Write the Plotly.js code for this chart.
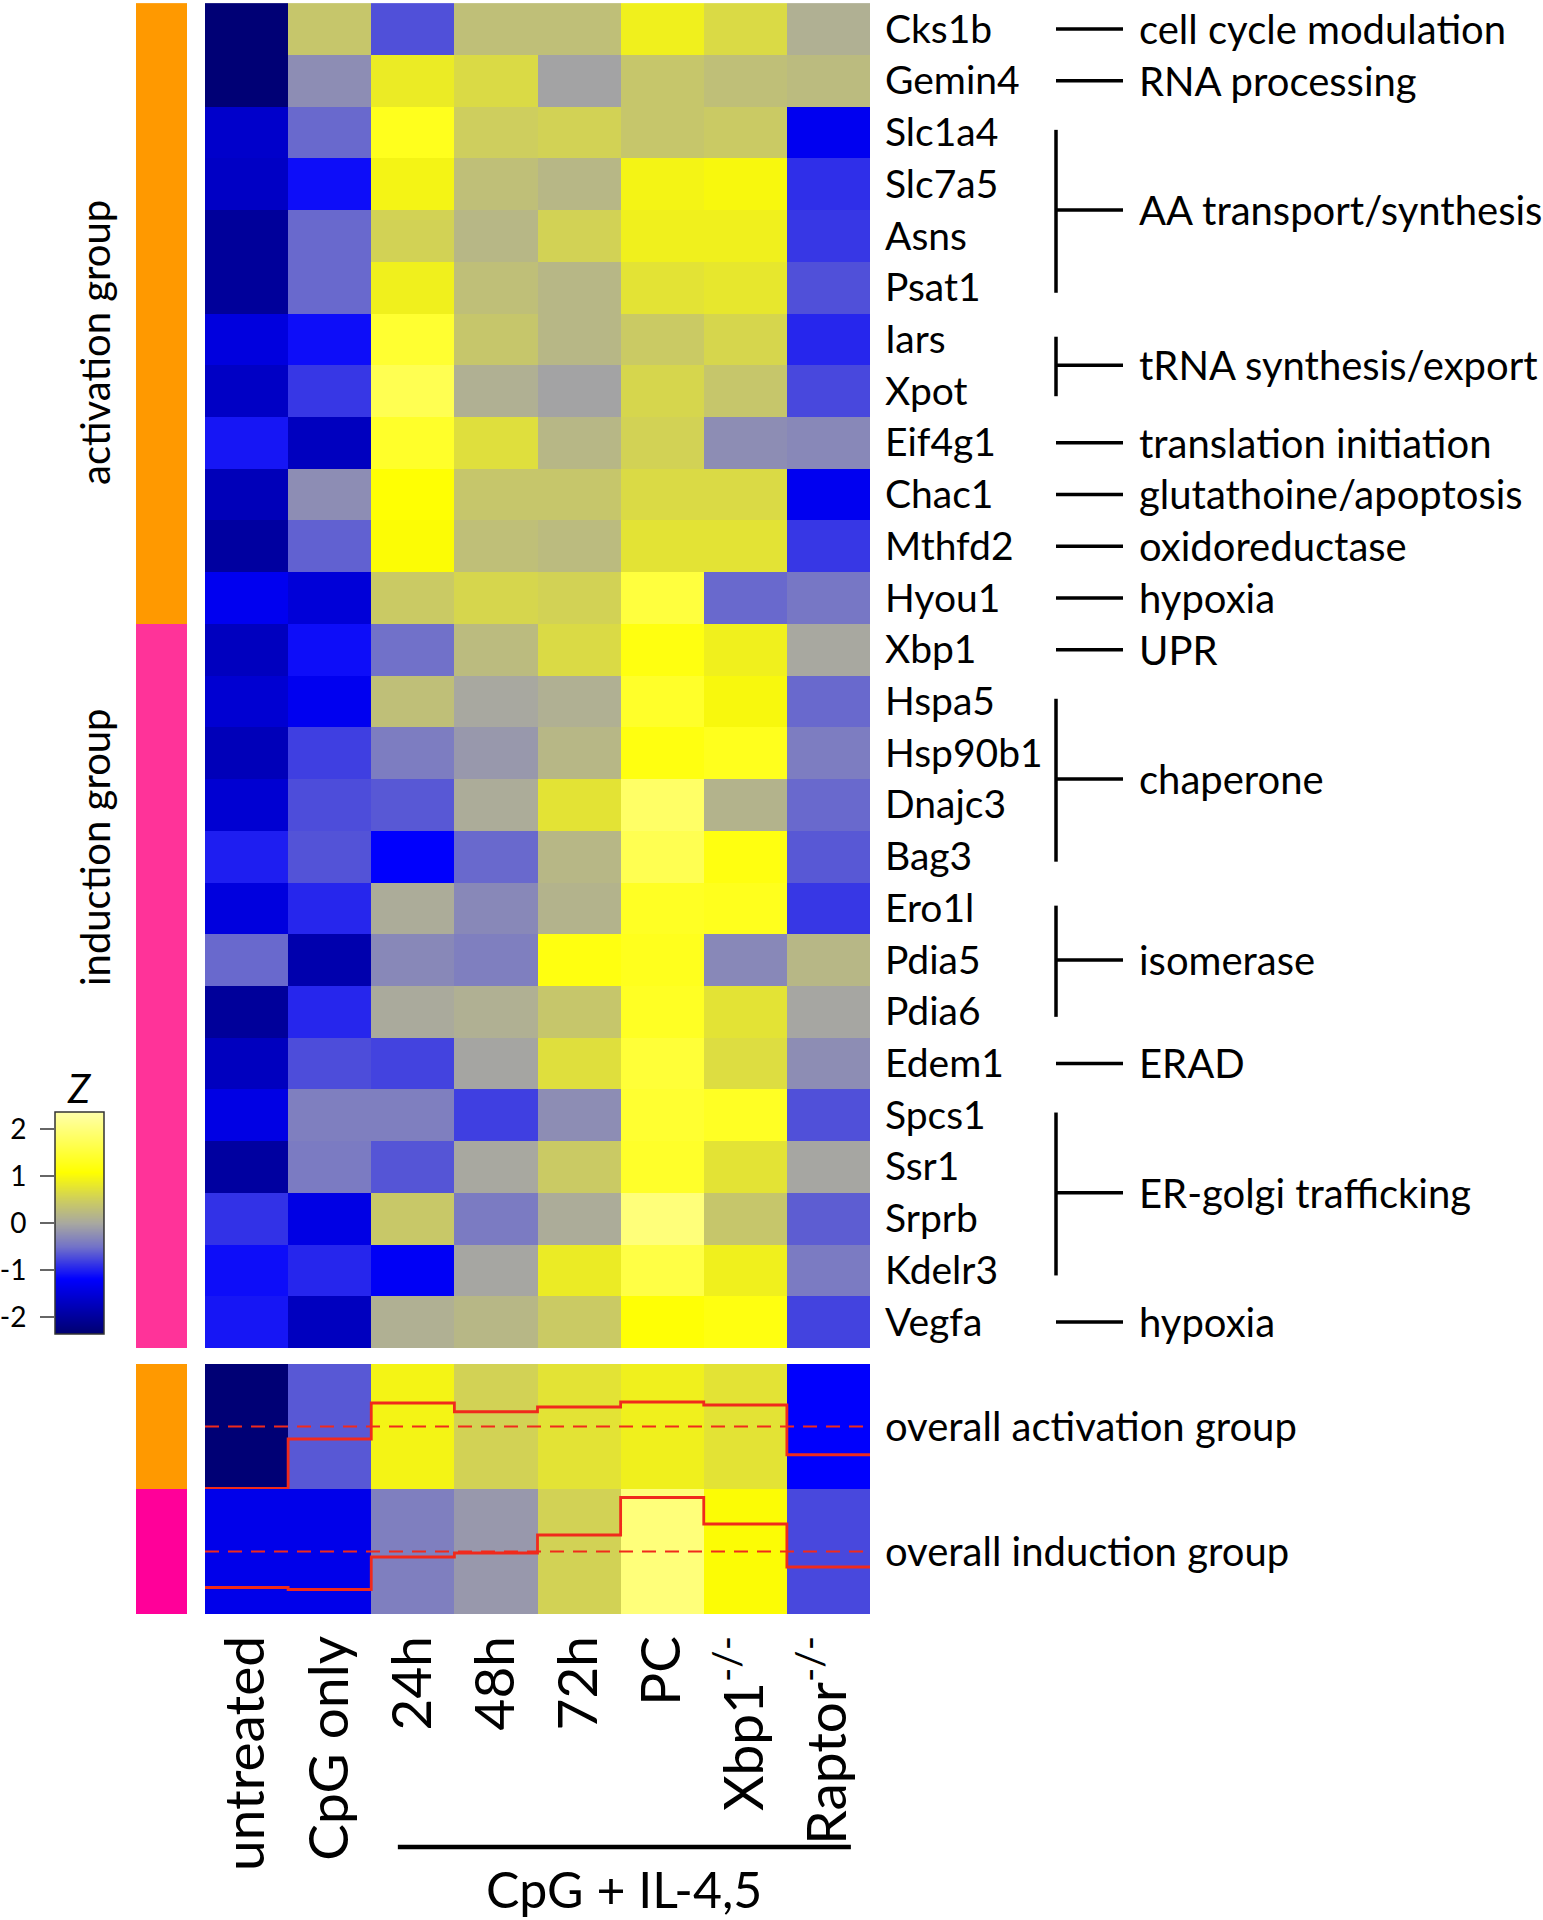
<!DOCTYPE html>
<html><head><meta charset="utf-8">
<script src="https://cdn.plot.ly/plotly-3.0.1.min.js"></script>
<style>html,body{margin:0;padding:0;background:#fff;} #chart{width:1543px;height:1920px;}</style>
</head><body><div id="chart"></div>
<script>
// ---------- DATA ----------
const genes = ['Cks1b','Gemin4','Slc1a4','Slc7a5','Asns','Psat1','Iars','Xpot','Eif4g1','Chac1','Mthfd2','Hyou1',
  'Xbp1','Hspa5','Hsp90b1','Dnajc3','Bag3','Ero1l','Pdia5','Pdia6','Edem1','Spcs1','Ssr1','Srprb','Kdelr3','Vegfa'];
const geneGroup = ['activation','activation','activation','activation','activation','activation','activation','activation','activation','activation','activation','activation',
  'induction','induction','induction','induction','induction','induction','induction','induction','induction','induction','induction','induction','induction','induction'];
const conditions = ['untreated','CpG only','24h','48h','72h','PC','Xbp1<sup>-/-</sup>','Raptor<sup>-/-</sup>'];

// Z-scores per condition (one value per gene, same order as genes)
const untreated = [-2.3,-2.3,-1.6,-1.65,-2.0,-2.0,-1.45,-1.65,-1.05,-1.75,-1.95,-1.3,-1.7,-1.55,-1.75,-1.55,-1.0,-1.45,-0.55,-2.0,-1.7,-1.4,-1.95,-0.88,-1.1,-1.05];
const cpgOnly   = [0.4,-0.25,-0.55,-1.1,-0.55,-0.55,-1.1,-0.85,-1.7,-0.25,-0.6,-1.5,-1.1,-1.3,-0.8,-0.72,-0.68,-0.95,-1.85,-0.95,-0.72,-0.38,-0.42,-1.4,-0.95,-1.7];
const h24       = [-0.7,0.85,1.3,0.95,0.55,0.9,1.45,1.7,1.4,1.1,1.05,0.45,-0.5,0.3,-0.4,-0.65,-1.2,0.05,-0.3,0.03,-0.78,-0.38,-0.67,0.42,-1.25,0.1];
const h48       = [0.3,0.65,0.5,0.3,0.2,0.3,0.4,0.1,0.7,0.4,0.3,0.6,0.25,0.0,-0.15,0.05,-0.55,-0.3,-0.38,0.1,-0.03,-0.8,0.0,-0.42,-0.02,0.2];
const h72       = [0.3,-0.05,0.55,0.2,0.55,0.2,0.2,-0.05,0.2,0.4,0.25,0.55,0.65,0.1,0.2,0.75,0.2,0.15,1.2,0.4,0.7,-0.25,0.45,0.05,0.85,0.45];
const pc        = [0.9,0.4,0.4,0.95,0.9,0.75,0.45,0.6,0.55,0.65,0.75,1.55,1.2,1.4,1.2,1.85,1.7,1.35,1.3,1.35,1.5,1.45,1.4,2.0,1.6,1.12];
const xbp1KO    = [0.65,0.3,0.45,1.0,0.9,0.8,0.6,0.4,-0.25,0.65,0.75,-0.55,0.9,1.0,1.3,0.15,1.2,1.3,-0.3,0.75,0.68,1.35,0.75,0.4,0.9,1.2];
const raptorKO  = [0.1,0.25,-1.3,-0.9,-0.85,-0.7,-0.95,-0.75,-0.3,-1.3,-0.85,-0.45,0.0,-0.55,-0.4,-0.55,-0.65,-0.85,0.2,-0.02,-0.25,-0.7,-0.02,-0.62,-0.42,-0.78];

// overall group rows
const overallLabels = ['overall activation group','overall induction group'];
const overallActivation = [-2.3,-0.65,0.95,0.55,0.75,0.9,0.75,-1.2];
const overallInduction  = [-1.35,-1.35,-0.38,-0.15,0.55,2.0,1.05,-0.75];
// red step-line values (group mean)
const activationLine = [-2.48,-0.5,0.94,0.59,0.78,0.98,0.86,-1.13];
const inductionLine  = [-1.44,-1.52,-0.22,-0.06,0.66,2.16,1.1,-0.62];

// functional annotation (first / last gene index)
const funcLabels = ['cell cycle modulation','RNA processing','AA transport/synthesis','tRNA synthesis/export','translation initiation',
  'glutathoine/apoptosis','oxidoreductase','hypoxia','UPR','chaperone','isomerase','ERAD','ER-golgi trafficking','hypoxia'];
const funcFirst = [0,1,2,6,8,9,10,11,12,13,17,20,21,25];
const funcLast  = [0,1,5,7,8,9,10,11,12,16,19,20,24,25];

const zScale = [-2.36, 2.36];
const colorTicks = [-2,-1,0,1,2];
const colorTickText = ['-2','-1','0','1','2'];

// ---------- STYLE ----------
const W = 1543, H = 1920;
const px = v => v / W;
const py = v => (H - v) / H;
const FONT = 'Lato, "Open Sans", sans-serif';
const colorscale = [
  [0.0, 'rgb(0,0,110)'],
  [0.25, 'rgb(0,0,255)'],
  [0.396, 'rgb(115,115,200)'],
  [0.5, 'rgb(168,168,160)'],
  [0.604, 'rgb(205,205,95)'],
  [0.729, 'rgb(255,255,0)'],
  [1.0, 'rgb(255,255,170)']
];
const conds = [untreated, cpgOnly, h24, h48, h72, pc, xbp1KO, raptorKO];
const zMain = genes.map((g, i) => conds.map(a => a[i]));

const heatX = [px(205), px(870)];
const sideX = [px(136), px(187)];
const mainY = [py(1348), py(3)];
const botY = [py(1614), py(1364)];
const actY = [py(1489), py(1364)];
const indY = [py(1614), py(1489)];

const idx = conditions.map((c, i) => i);
function stepX() { return [-0.5].concat(idx, [idx.length - 0.5]); }
function stepY(v) { return [v[0]].concat(v, [v[v.length - 1]]); }
const RED = 'rgb(240,42,28)';

const traces = [
  {type:'heatmap', x:conditions, y:genes, z:zMain, xaxis:'x', yaxis:'y',
   colorscale:colorscale, zmin:zScale[0], zmax:zScale[1], showscale:false, hoverinfo:'skip'},
  {type:'heatmap', x:conditions, y:overallLabels, z:[overallActivation, overallInduction], xaxis:'x2', yaxis:'y2',
   colorscale:colorscale, zmin:zScale[0], zmax:zScale[1], showscale:false, hoverinfo:'skip'},
  {type:'heatmap', x:['group'], y:genes, z:geneGroup.map(g => [g === 'activation' ? 0 : 1]), xaxis:'x3', yaxis:'y',
   colorscale:[[0,'#FF9900'],[0.5,'#FF9900'],[0.5,'#FF3399'],[1,'#FF3399']], zmin:0, zmax:1, showscale:false, hoverinfo:'skip'},
  {type:'heatmap', x:['group'], y:overallLabels, z:[[0],[1]], xaxis:'x4', yaxis:'y2',
   colorscale:[[0,'#FF9900'],[0.5,'#FF9900'],[0.5,'#FF0099'],[1,'#FF0099']], zmin:0, zmax:1, showscale:false, hoverinfo:'skip'},
  {type:'heatmap', x:[0,1], y:zScale, z:[[zScale[0],zScale[0]],[zScale[1],zScale[1]]], xaxis:'x5', yaxis:'y3',
   zsmooth:'best', colorscale:colorscale, zmin:zScale[0], zmax:zScale[1], showscale:false, hoverinfo:'skip'},
  {type:'scatter', mode:'lines', x:stepX(), y:stepY(activationLine), xaxis:'x6', yaxis:'y4',
   line:{shape:'hvh', color:RED, width:2.8}, hoverinfo:'skip'},
  {type:'scatter', mode:'lines', x:stepX(), y:stepY(inductionLine), xaxis:'x7', yaxis:'y5',
   line:{shape:'hvh', color:RED, width:2.8}, hoverinfo:'skip'}
];

const shapes = [];
const annotations = [];
// functional connectors and labels
funcLabels.forEach((lab, k) => {
  const a = funcFirst[k], b = funcLast[k], mid = (a + b) / 2;
  shapes.push({type:'line', xref:'paper', yref:'y', x0:px(1056), x1:px(1123), y0:mid, y1:mid, line:{color:'#000', width:3.5}});
  if (b > a) {
    shapes.push({type:'line', xref:'paper', yref:'y', x0:px(1056), x1:px(1056), y0:a - 0.05, y1:b + 0.1, line:{color:'#000', width:3.5}});
  }
  annotations.push({text:lab, xref:'paper', yref:'y', x:px(1137), y:mid, xanchor:'left', yanchor:'middle',
    showarrow:false, font:{family:FONT, size:40, color:'#000'}});
});
// dashed baselines
['y4','y5'].forEach((ya, k) => {
  shapes.push({type:'line', xref:(k === 0 ? 'x6' : 'x7'), yref:ya, x0:-0.5, x1:idx.length - 0.5, y0:0, y1:0,
    line:{color:RED, width:2, dash:'14px,9px'}});
});
// colour legend border
shapes.push({type:'rect', xref:'paper', yref:'paper', x0:px(55), x1:px(104), y0:py(1334), y1:py(1112),
  line:{color:'#333', width:1.5}});
// CpG + IL-4,5 bracket
shapes.push({type:'line', xref:'x2', yref:'paper', x0:1.82, x1:7.27, y0:py(1847), y1:py(1847), line:{color:'#000', width:4.5}});
annotations.push({text:'CpG + IL-4,5', xref:'x2', yref:'paper', x:(1.82 + 7.27) / 2, y:py(1889), xanchor:'center', yanchor:'middle',
  showarrow:false, font:{family:FONT, size:50, color:'#000'}});
annotations.push({text:'activation group', xref:'paper', yref:'paper', x:px(95), y:py(343), xanchor:'center', yanchor:'middle',
  textangle:-90, showarrow:false, font:{family:FONT, size:40, color:'#000'}});
annotations.push({text:'induction group', xref:'paper', yref:'paper', x:px(95), y:py(847), xanchor:'center', yanchor:'middle',
  textangle:-90, showarrow:false, font:{family:FONT, size:40, color:'#000'}});
annotations.push({text:'<i>Z</i>', xref:'paper', yref:'paper', x:px(79.5), y:py(1088), xanchor:'center', yanchor:'middle',
  showarrow:false, font:{family:FONT, size:40, color:'#000'}});

const hidden = {visible:false};
const layout = {
  width:W, height:H, margin:{l:0, r:0, t:0, b:0},
  paper_bgcolor:'#fff', plot_bgcolor:'rgba(0,0,0,0)', showlegend:false,
  font:{family:FONT, color:'#000'},
  xaxis:{domain:heatX, anchor:'y', showticklabels:false, ticks:'', showgrid:false, zeroline:false},
  yaxis:{domain:mainY, anchor:'x', side:'right', autorange:'reversed', ticks:'', showgrid:false, zeroline:false,
    ticklabelstandoff:14, tickfont:{family:FONT, size:39, color:'#000'}},
  xaxis2:{domain:heatX, anchor:'y2', tickangle:-90, ticks:'', showgrid:false, zeroline:false, ticklabelstandoff:10,
    tickfont:{family:FONT, size:55, color:'#000'}},
  yaxis2:{domain:botY, anchor:'x2', side:'right', autorange:'reversed', ticks:'', showgrid:false, zeroline:false,
    ticklabelstandoff:14, tickfont:{family:FONT, size:40, color:'#000'}},
  xaxis3:Object.assign({domain:sideX, anchor:'y'}, hidden),
  xaxis4:Object.assign({domain:sideX, anchor:'y2'}, hidden),
  xaxis5:Object.assign({domain:[px(55), px(104)], anchor:'y3', range:[0,1]}, hidden),
  yaxis3:{domain:[py(1334), py(1112)], anchor:'x5', side:'left', range:zScale, ticks:'outside', ticklen:14, tickwidth:2.5,
    tickcolor:'#666', tickvals:colorTicks, ticktext:colorTickText, showgrid:false, zeroline:false, showline:false,
    ticklabelstandoff:8, tickfont:{family:FONT, size:28, color:'#000'}},
  xaxis6:Object.assign({domain:heatX, anchor:'y4', range:[-0.5, idx.length - 0.5]}, hidden),
  yaxis4:Object.assign({domain:actY, anchor:'x6', range:[-2.5, 2.5]}, hidden),
  xaxis7:Object.assign({domain:heatX, anchor:'y5', range:[-0.5, idx.length - 0.5]}, hidden),
  yaxis5:Object.assign({domain:indY, anchor:'x7', range:[-2.5, 2.5]}, hidden),
  shapes:shapes, annotations:annotations
};
Plotly.newPlot('chart', traces, layout, {displayModeBar:false, staticPlot:true});
</script></body></html>
